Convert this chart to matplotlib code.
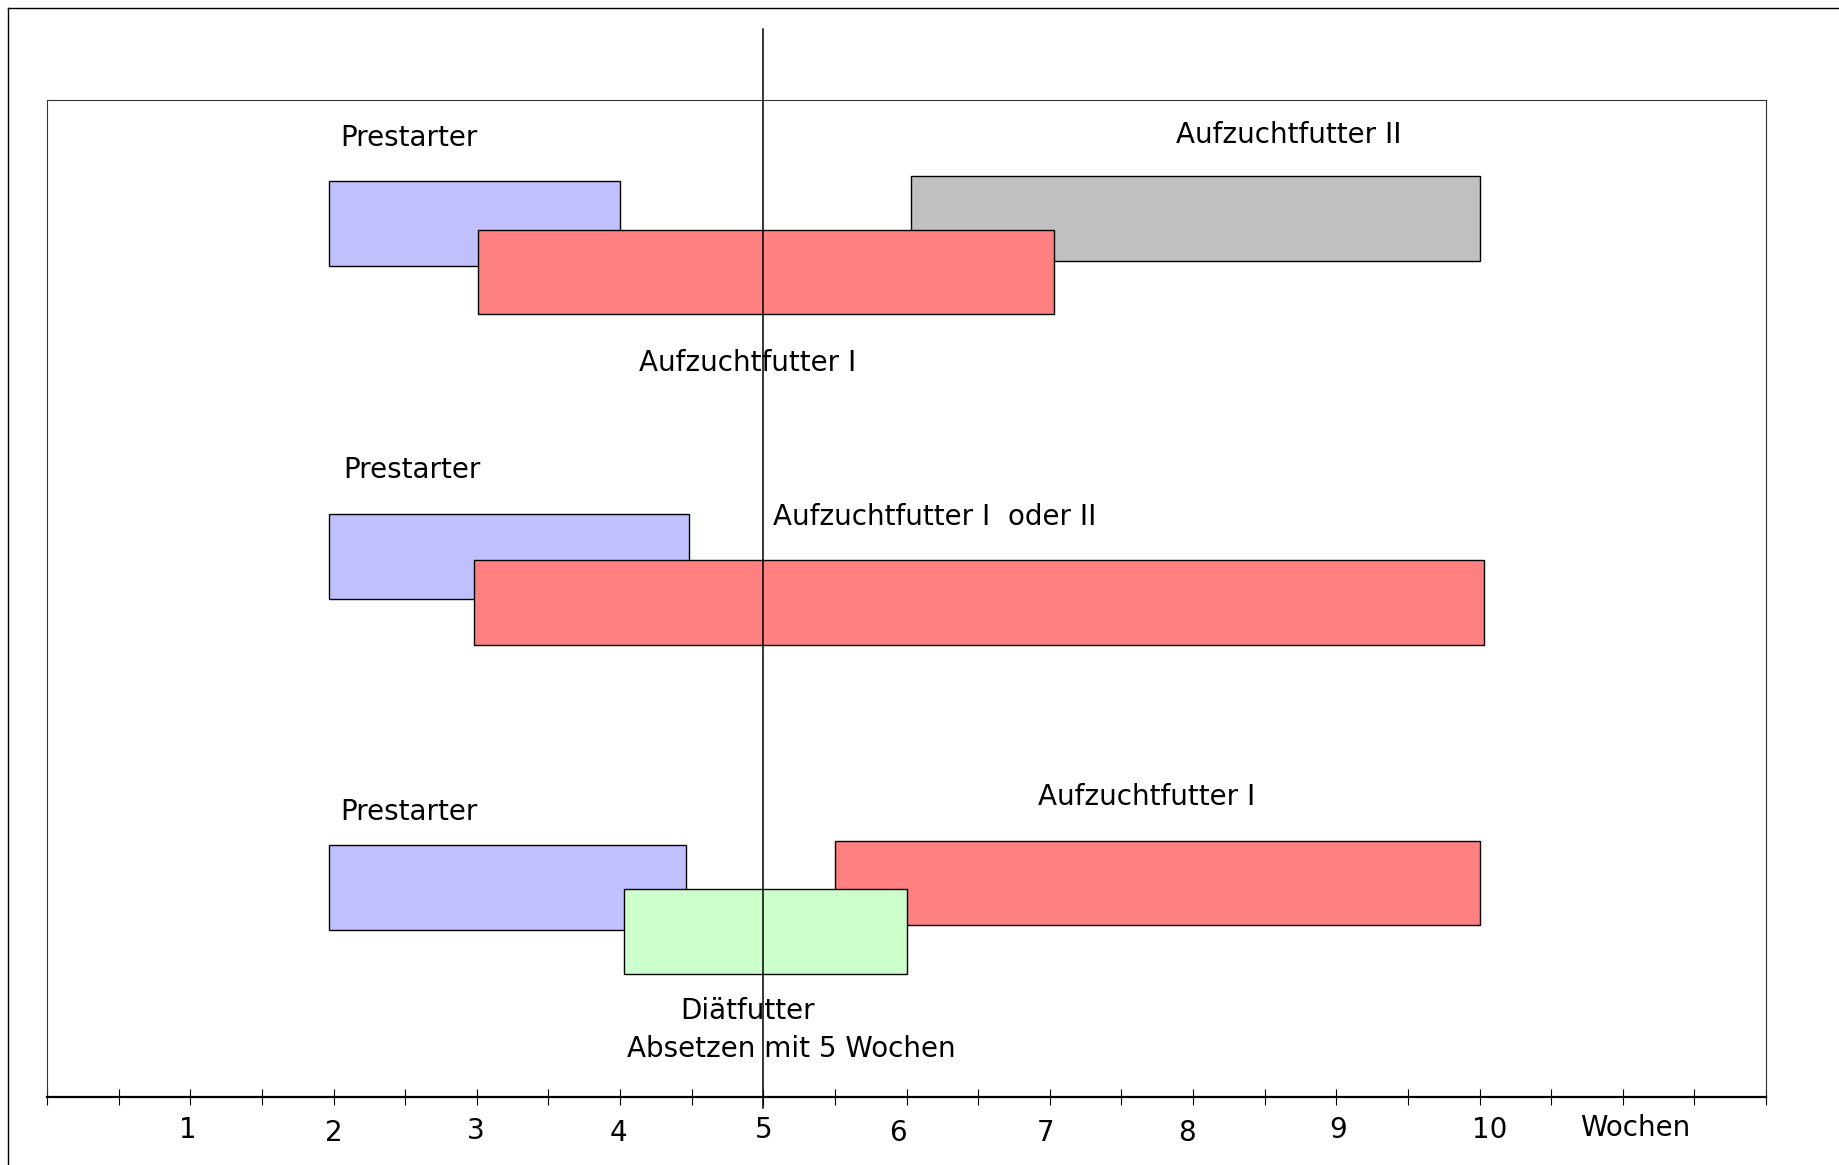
import matplotlib
matplotlib.use("Agg")
import matplotlib.pyplot as plt
from matplotlib.lines import Line2D

# Futterphasen (Wochen)
bar_names = ["Prestarter", "Aufzuchtfutter II", "Aufzuchtfutter I",
             "Prestarter", "Aufzuchtfutter I  oder II",
             "Prestarter", "Aufzuchtfutter I", "Diätfutter"]
bar_start = [1.97, 6.03, 3.01, 1.97, 2.98, 1.97, 5.5, 4.03]
bar_end = [4.0, 10.0, 7.03, 4.48, 10.03, 4.46, 10.0, 6.0]
bar_colors = ["#C0C0FF", "#C0C0C0", "#FF8080",
              "#C0C0FF", "#FF8080",
              "#C0C0FF", "#FF8080", "#CCFFCC"]

week_labels = ["1", "2", "3", "4", "5", "6", "7", "8", "9", "10", "Wochen"]
weaning_week = 5
note = "Absetzen mit 5 Wochen"

# layout (not data): bar centres, text anchors
bar_y = [87.65, 88.12, 82.76, 54.24, 49.59, 21.0, 21.47, 16.59]
bar_h = 8.5
text_xy = [(2.05, 96.2), (7.88, 96.5), (4.13, 73.6),
           (2.07, 62.9), (5.07, 58.2),
           (2.05, 28.6), (6.92, 30.1), (4.42, 8.6)]
label_x = [0.98, 2.0, 2.99, 3.99, 5.0, 5.94, 6.97, 7.96, 9.01, 10.07, 11.09]
label_y = [-3.3, -3.65, -3.45, -3.65, -3.3, -3.65, -3.65, -3.65, -3.3, -3.3, -3.1]

FS = 20

fig = plt.figure(figsize=(18.39, 11.65), dpi=100)
ax = fig.add_axes([47 / 1839, 68 / 1165, 1719 / 1839, 997 / 1165])

for i in range(len(bar_names)):
    ax.barh(bar_y[i], bar_end[i] - bar_start[i], left=bar_start[i], height=bar_h,
            color=bar_colors[i], edgecolor="black", linewidth=1.0, zorder=2 + i * 0.1)
    ax.text(text_xy[i][0], text_xy[i][1], bar_names[i], fontsize=FS,
            ha="left", va="center", zorder=5)

ax.text(4.05, 4.8, note, fontsize=FS, ha="left", va="center", zorder=5)

# Absetzlinie
ax.plot([weaning_week, weaning_week], [-1.1, 107.1], color="black", lw=1.1,
        zorder=6, clip_on=False)

ax.set_xlim(0, 12)
ax.set_ylim(0, 100)
ax.set_xticks([i * 0.5 for i in range(25)])
ax.set_xticklabels([])
ax.set_yticks([])
ax.tick_params(axis="x", direction="inout", length=12, width=0.8, color="black")

for s in ["top", "left", "right"]:
    ax.spines[s].set_linewidth(0.8)
    ax.spines[s].set_color("#333333")
ax.spines["bottom"].set_linewidth(1.6)
ax.spines["bottom"].set_color("black")

for i, lab in enumerate(week_labels):
    ax.text(label_x[i], label_y[i], lab, fontsize=FS, ha="center", va="center",
            clip_on=False)

# äußerer Rahmen (nur links und oben sichtbar)
fig.add_artist(Line2D([8 / 1839, 8 / 1839], [0, 1 - 8 / 1165], color="black", lw=1.0,
                      transform=fig.transFigure))
fig.add_artist(Line2D([8 / 1839, 1], [1 - 8 / 1165, 1 - 8 / 1165], color="black", lw=1.0,
                      transform=fig.transFigure))

fig.savefig("out.png", dpi=100)
